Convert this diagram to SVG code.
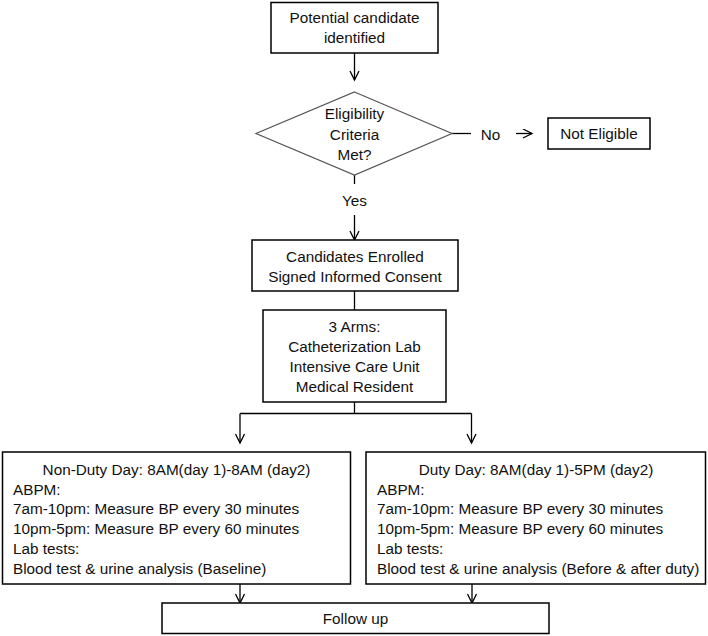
<svg xmlns="http://www.w3.org/2000/svg" width="708" height="636" viewBox="0 0 708 636">
<style>
.box{fill:#fff;stroke:#000;stroke-width:1.5}
.ln{fill:none;stroke:#000;stroke-width:1.3}
text{font-family:"Liberation Sans",Arial,sans-serif;font-size:15.3px;fill:#111}
.c{text-anchor:middle}
</style>
<defs>
<marker id="ah" markerUnits="userSpaceOnUse" markerWidth="12" markerHeight="12" refX="10" refY="5" orient="auto">
<path d="M1,0.5 L10,5 L1,9.5" fill="none" stroke="#000" stroke-width="1.3"/>
</marker>
</defs>
<rect width="708" height="636" fill="#fff"/>
<g id="connectors">
<line class="ln" x1="354.5" y1="53" x2="354.5" y2="80" marker-end="url(#ah)"/>
<line class="ln" x1="452" y1="133.5" x2="471" y2="133.5"/>
<line class="ln" x1="516" y1="133.5" x2="532" y2="133.5" marker-end="url(#ah)"/>
<line class="ln" x1="354.5" y1="175" x2="354.5" y2="184"/>
<line class="ln" x1="354.5" y1="215" x2="354.5" y2="240" marker-end="url(#ah)"/>
<line class="ln" x1="354.5" y1="291" x2="354.5" y2="310"/>
<polyline class="ln" points="354.5,402 354.5,413.5"/>
<polyline class="ln" points="240,413.5 471.5,413.5"/>
<line class="ln" x1="240" y1="413.5" x2="240" y2="443" marker-end="url(#ah)"/>
<line class="ln" x1="471.5" y1="413.5" x2="471.5" y2="443" marker-end="url(#ah)"/>
<line class="ln" x1="240" y1="584" x2="240" y2="603" marker-end="url(#ah)"/>
<line class="ln" x1="472" y1="584" x2="472" y2="603" marker-end="url(#ah)"/>
</g>
<g id="label-no"><text class="c" x="490.5" y="139.5">No</text></g>
<g id="label-yes"><text class="c" x="354.5" y="205.5">Yes</text></g>
<g id="start">
<rect class="box" x="271" y="2.5" width="167" height="50.5"/>
<text class="c" x="354.5" y="22.5">Potential candidate</text>
<text class="c" x="354.5" y="42.5">identified</text>
</g>
<g id="decision">
<polygon class="ln" points="354.5,92 452,133.5 354.5,175 256,133.5" style="stroke:#555;stroke-width:1.2"/>
<text class="c" x="354.5" y="118.5">Eligibility</text>
<text class="c" x="354.5" y="139.5">Criteria</text>
<text class="c" x="354.5" y="159.5">Met?</text>
</g>
<g id="not-eligible">
<rect class="box" x="548" y="118" width="102" height="31"/>
<text class="c" x="599" y="139">Not Eligible</text>
</g>
<g id="enrolled">
<rect class="box" x="252" y="240" width="206" height="51"/>
<text class="c" x="355" y="261.5">Candidates Enrolled</text>
<text class="c" x="355" y="281.5">Signed Informed Consent</text>
</g>
<g id="arms">
<rect class="box" x="263" y="310" width="183" height="92"/>
<text class="c" x="354.5" y="331.5">3 Arms:</text>
<text class="c" x="354.5" y="351.5">Catheterization Lab</text>
<text class="c" x="354.5" y="371.5">Intensive Care Unit</text>
<text class="c" x="354.5" y="391.5">Medical Resident</text>
</g>
<g id="non-duty">
<rect class="box" x="2.5" y="452" width="348" height="132"/>
<text class="c" x="176.5" y="475">Non-Duty Day: 8AM(day 1)-8AM (day2)</text>
<text x="13" y="495">ABPM:</text>
<text x="13" y="514">7am-10pm: Measure BP every 30 minutes</text>
<text x="13" y="534">10pm-5pm: Measure BP every 60 minutes</text>
<text x="13" y="554">Lab tests:</text>
<text x="13" y="574">Blood test &amp; urine analysis (Baseline)</text>
</g>
<g id="duty">
<rect class="box" x="366" y="452" width="339.5" height="132"/>
<text class="c" x="536" y="475">Duty Day: 8AM(day 1)-5PM (day2)</text>
<text x="377" y="495">ABPM:</text>
<text x="377" y="514">7am-10pm: Measure BP every 30 minutes</text>
<text x="377" y="534">10pm-5pm: Measure BP every 60 minutes</text>
<text x="377" y="554">Lab tests:</text>
<text x="377" y="574">Blood test &amp; urine analysis (Before &amp; after duty)</text>
</g>
<g id="follow-up">
<rect class="box" x="162" y="603" width="387" height="30.5"/>
<text class="c" x="355.5" y="623.5">Follow up</text>
</g>
</svg>
